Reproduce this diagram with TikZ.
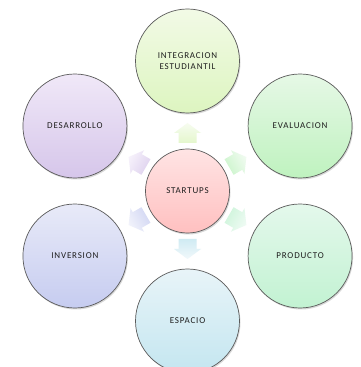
\documentclass[tikz,border=0pt]{standalone}
\usepackage{fontspec}
\setmainfont{Carlito}[LetterSpace=9]
\usetikzlibrary{shadows,calc}
\definecolor{txt}{HTML}{1E1E1E}
\definecolor{edge}{HTML}{5A5A5A}
\definecolor{cT}{HTML}{FFE4E4}\definecolor{cB}{HTML}{FFC0C0}
\definecolor{iT}{HTML}{F2FAE6}\definecolor{iB}{HTML}{DDF5C0}
\definecolor{eT}{HTML}{E6F8E6}\definecolor{eB}{HTML}{BFF2BF}
\definecolor{pT}{HTML}{E4F8EC}\definecolor{pB}{HTML}{C2F2D2}
\definecolor{sT}{HTML}{E8F4F8}\definecolor{sB}{HTML}{C4E6F0}
\definecolor{vT}{HTML}{E8EAF8}\definecolor{vB}{HTML}{C6CCF0}
\definecolor{dT}{HTML}{F0E8F8}\definecolor{dB}{HTML}{D6C6EA}
\tikzset{
  bubble/.style={circle, minimum size=104pt, inner sep=0pt, draw=edge, line width=0.7pt,
    font=\fontsize{9}{11}\selectfont, text=txt, align=center,
    drop shadow={shadow xshift=1pt, shadow yshift=-1.5pt, opacity=0.3}},
  hub/.style={bubble, minimum size=84pt},
  blockarrow/.style={draw=none}
}
\newcommand{\outarrow}[3]{%
  \begin{scope}[shift={(c)}, rotate=#1]
    \path[blockarrow, left color=#3, right color=#2, shading angle=#1+90]
      (48,-9) -- (58,-9) -- (58,-13.5) -- (68,0) -- (58,13.5) -- (58,9) -- (48,9) -- cycle;
  \end{scope}}
\begin{document}
\begin{tikzpicture}[x=1pt,y=1pt]
\useasboundingbox[fill=white] (0,0) rectangle (360,367);
\node[hub, top color=cT, bottom color=cB] (c) at (187.5,176) {STARTUPS};
\node[bubble, top color=iT, bottom color=iB] (i) at ($(c)+(90:130)$) {INTEGRACION\\ESTUDIANTIL};
\node[bubble, top color=eT, bottom color=eB] (e) at ($(c)+(30:130)$) {EVALUACION};
\node[bubble, top color=pT, bottom color=pB] (p) at ($(c)+(-30:130)$) {PRODUCTO};
\node[bubble, top color=sT, bottom color=sB] (s) at ($(c)+(-90:130)$) {ESPACIO};
\node[bubble, top color=vT, bottom color=vB] (v) at ($(c)+(-150:130)$) {INVERSION};
\node[bubble, top color=dT, bottom color=dB] (d) at ($(c)+(150:130)$) {DESARROLLO};
\outarrow{90}{iT!60}{iB!80}
\outarrow{30}{eT!60}{eB!80}
\outarrow{-30}{pT!60}{pB!80}
\outarrow{-90}{sT!60}{sB!80}
\outarrow{-150}{vT!60}{vB!80}
\outarrow{150}{dT!60}{dB!80}
\end{tikzpicture}
\end{document}
